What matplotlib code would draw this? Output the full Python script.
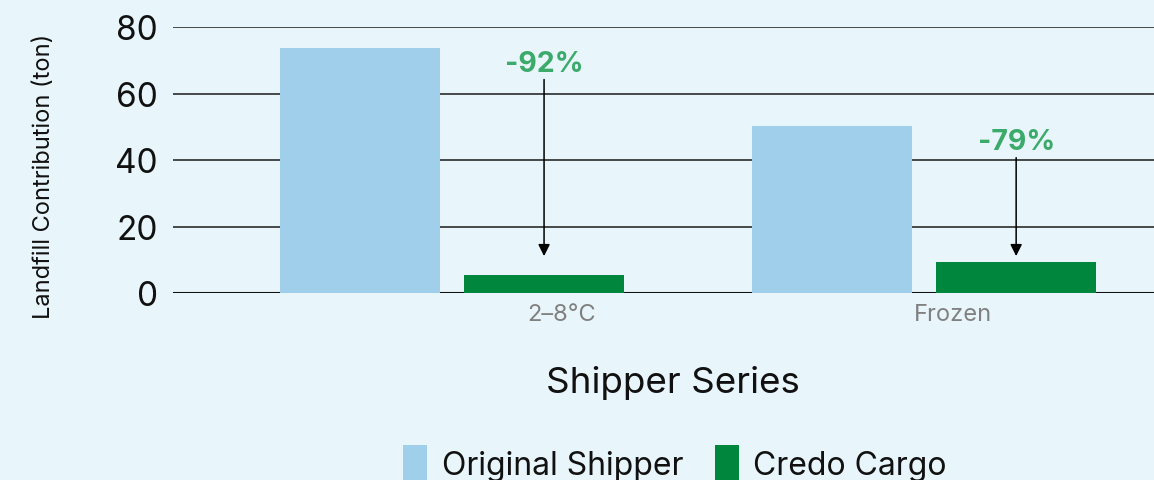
import matplotlib.pyplot as plt
from matplotlib.patches import Patch

plt.rcParams['font.family'] = ['Inter', 'DejaVu Sans']

categories = ["2–8°C", "Frozen"]
original = [73.7, 50.2]
credo = [5.4, 9.3]
reductions = ["-92%", "-79%"]

bg = "#E8F5FA"
blue = "#9FCFEB"
green = "#00873E"
pct_green = "#3BAA6A"

fig = plt.figure(figsize=(11.54, 4.81), dpi=100, facecolor=bg)
ax = fig.add_axes([173 / 1154, 1 - 294 / 481, 1 - 173 / 1154, (294 - 28) / 481])
ax.set_facecolor(bg)

x = range(len(categories))
width = 0.339
offset = 0.195
ax.bar([i - offset for i in x], original, width, color=blue, zorder=3)
ax.bar([i + offset for i in x], credo, width, color=green, zorder=3)

# reduction labels with arrows pointing down to the Credo bars
for i, (o, lab) in enumerate(zip(original, reductions)):
    xc = i + offset
    ax.text(xc, o - 4.7, lab, ha="center", va="center", color=pct_green,
            fontsize=20.5, fontweight="bold", zorder=4)
    ax.annotate("", xy=(xc, 11.1), xytext=(xc, o - 9.5),
                arrowprops=dict(arrowstyle="-|>,head_width=0.35,head_length=0.7",
                                color="black", lw=1.1, shrinkA=0, shrinkB=0),
                zorder=4)

ax.set_xlim(-0.591, 1.487)
ax.set_ylim(0, 80)
ax.set_yticks([0, 20, 40, 60, 80])
ax.yaxis.grid(True, color="#1a1a1a", linewidth=1.1, zorder=1)
ax.axhline(0, color="#111111", linewidth=1.5, zorder=2)
for s in ax.spines.values():
    s.set_visible(False)

# category labels sit off-centre in the original chart
ax.set_xticks([0.233, 1.061])
ax.set_xticklabels(categories, color="#808080", fontsize=17)
ax.tick_params(axis="x", length=0, pad=7)
ax.tick_params(axis="y", length=0, pad=11, labelsize=24, labelcolor="#111111")

ax.set_ylabel("Landfill Contribution (ton)", fontsize=17, color="#111111", labelpad=43)
ax.yaxis.label.set_y(0.444)
ax.set_xlabel("Shipper Series", fontsize=26.5, color="#111111", labelpad=29)
ax.xaxis.label.set_x((673 - 173) / 981)

handles = [Patch(facecolor=blue, label="Original Shipper"),
           Patch(facecolor=green, label="Credo Cargo")]
fig.legend(handles=handles, loc="center", bbox_to_anchor=(675 / 1154, 1 - 464 / 481),
           ncol=2, frameon=False, fontsize=23, handlelength=0.75, handleheight=1.4,
           handletextpad=0.45, columnspacing=1.0, labelcolor="#111111", borderpad=0)

fig.savefig("out.png", dpi=100, facecolor=bg)
